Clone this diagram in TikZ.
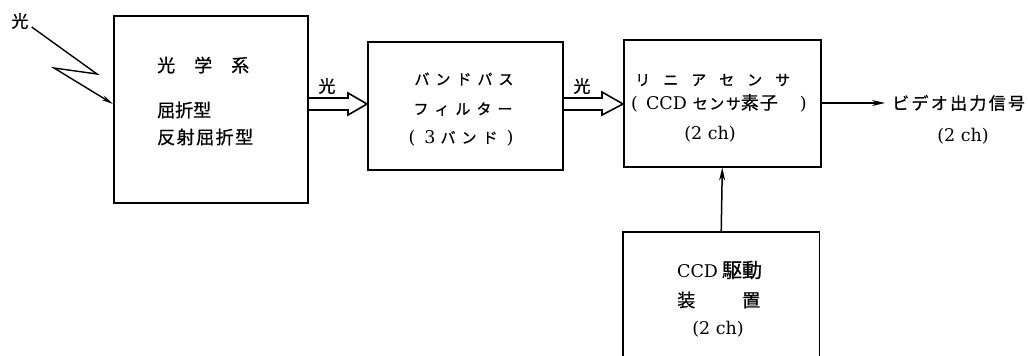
\documentclass[tikz,border=0pt]{standalone}
\usepackage{fontspec}
\setmainfont{DejaVu Serif}
\newfontfamily\jp[FakeBold=0.8]{Noto Sans CJK JP}
\usetikzlibrary{arrows.meta,calc}
% horizontal gap of the given size in pt
\newcommand\kg[1]{\hspace{#1pt}}
\newcommand\fsz[1]{\fontsize{#1}{#1}\selectfont}

\begin{document}
\begin{tikzpicture}[x=1pt,y=-1pt,
  blk/.style={draw, line width=1.6pt, inner sep=0pt, anchor=north west},
  txt/.style={inner sep=0pt, font=\fsz{17.5}},
  hollow/.style={line width=1.6pt, line join=miter},
  sig/.style={line width=1.5pt, -{Stealth[length=13pt,width=6pt]}}]
\useasboundingbox (0,0) rectangle (1028,356);

% blocks
\node[blk, minimum width=194pt, minimum height=187pt] (optics) at (113,15) {};
\node[blk, minimum width=195pt, minimum height=128pt] (filt) at (367,41) {};
\node[blk, minimum width=197pt, minimum height=127pt] (sensor) at (623,39) {};
\node[inner sep=0pt, anchor=north west, minimum width=196pt, minimum height=124pt] (drv) at (623,232) {};
\draw[line width=1.6pt] (drv.south west) |- (drv.north east) -- (drv.south east);

% optical system
\node[txt, anchor=west] (opt1) at (157,65) {\jp\fsz{18}光\kg{19}学\kg{19}系};
\node[txt, anchor=west] (opt2) at (157,110) {\jp\fsz{18}屈折型};
\node[txt, anchor=west] (opt3) at (157,137) {\jp\fsz{18}反\kg{1.5}射\kg{1.5}屈\kg{1.5}折\kg{1.5}型};

% band-pass filter
\node[txt] (f1) at (464,79) {\jp\fsz{15}バ\kg6ン\kg6ド\kg6パ\kg6ス};
\node[txt] (f2) at (463,109) {\jp\fsz{15}フ\kg6ィ\kg6ル\kg6タ\kg6ー};
\node[txt] (f3) at (461,138) {(\kg{9}3\kg{5}{\jp\fsz{15}バ\kg6ン\kg6ド}\kg{9})};

% linear sensor
\node[txt, anchor=west] (s1) at (635,80) {\jp\fsz{15}リ\kg{13}ニ\kg{13}ア\kg{13}セ\kg{13}ン\kg{13}サ};
\node[txt, anchor=west] (s2) at (631,103) {(\kg{8}CCD\kg{6}{\jp\fsz{15}セ\kg{1.5}ン\kg{1.5}サ\fsz{18}素\kg{1}子}\kg{22})};
\node[txt] (s3) at (710,134) {(2 ch)};

% CCD driver
\node[txt, anchor=west] (d1) at (677,270) {CCD\kg{4}{\jp\fsz{20}駆動}};
\node[txt, anchor=west] (d2) at (677,300) {\jp\fsz{18}装\kg{47}置};
\node[txt] (d3) at (718,329) {(2 ch)};

% video output
\node[txt, anchor=west] (vid) at (892,103) {\jp\fsz{17}ビ\kg{2.3}デ\kg{2.3}オ\kg{2.3}出\kg{2.3}力\kg{2.3}信\kg{2.3}号};
\node[txt] (vidch) at (963,136) {(2 ch)};

% light labels
\node[txt] (lin) at (20,21) {\jp\fsz{17}光};
\node[txt] (l1) at (327,86) {\jp\fsz{17}光};
\node[txt] (l2) at (582,86) {\jp\fsz{17}光};

% incoming light (zigzag)
\draw[line width=1.4pt, line join=miter, -{Stealth[length=12pt,width=5pt]}]
  ($(lin.east)+(3,6)$) -- (97,74) -- (54,68) -- (optics.west |- 0,104);

% light paths between blocks
\draw[hollow] (optics.east |- 0,98) -- (348,98) -- (348,93) -- (filt.west |- 0,104)
  -- (348,115) -- (348,110) -- (optics.east |- 0,110);
\draw[hollow] (filt.east |- 0,98) -- (602,98) -- (602,92) -- (sensor.west |- 0,104)
  -- (602,115) -- (602,110) -- (filt.east |- 0,110);

% signals
\draw[sig] (sensor.east |- vid.west) -- ([xshift=-7pt]vid.west);
\draw[sig] (drv.north) -- (sensor.south);
\end{tikzpicture}
\end{document}
